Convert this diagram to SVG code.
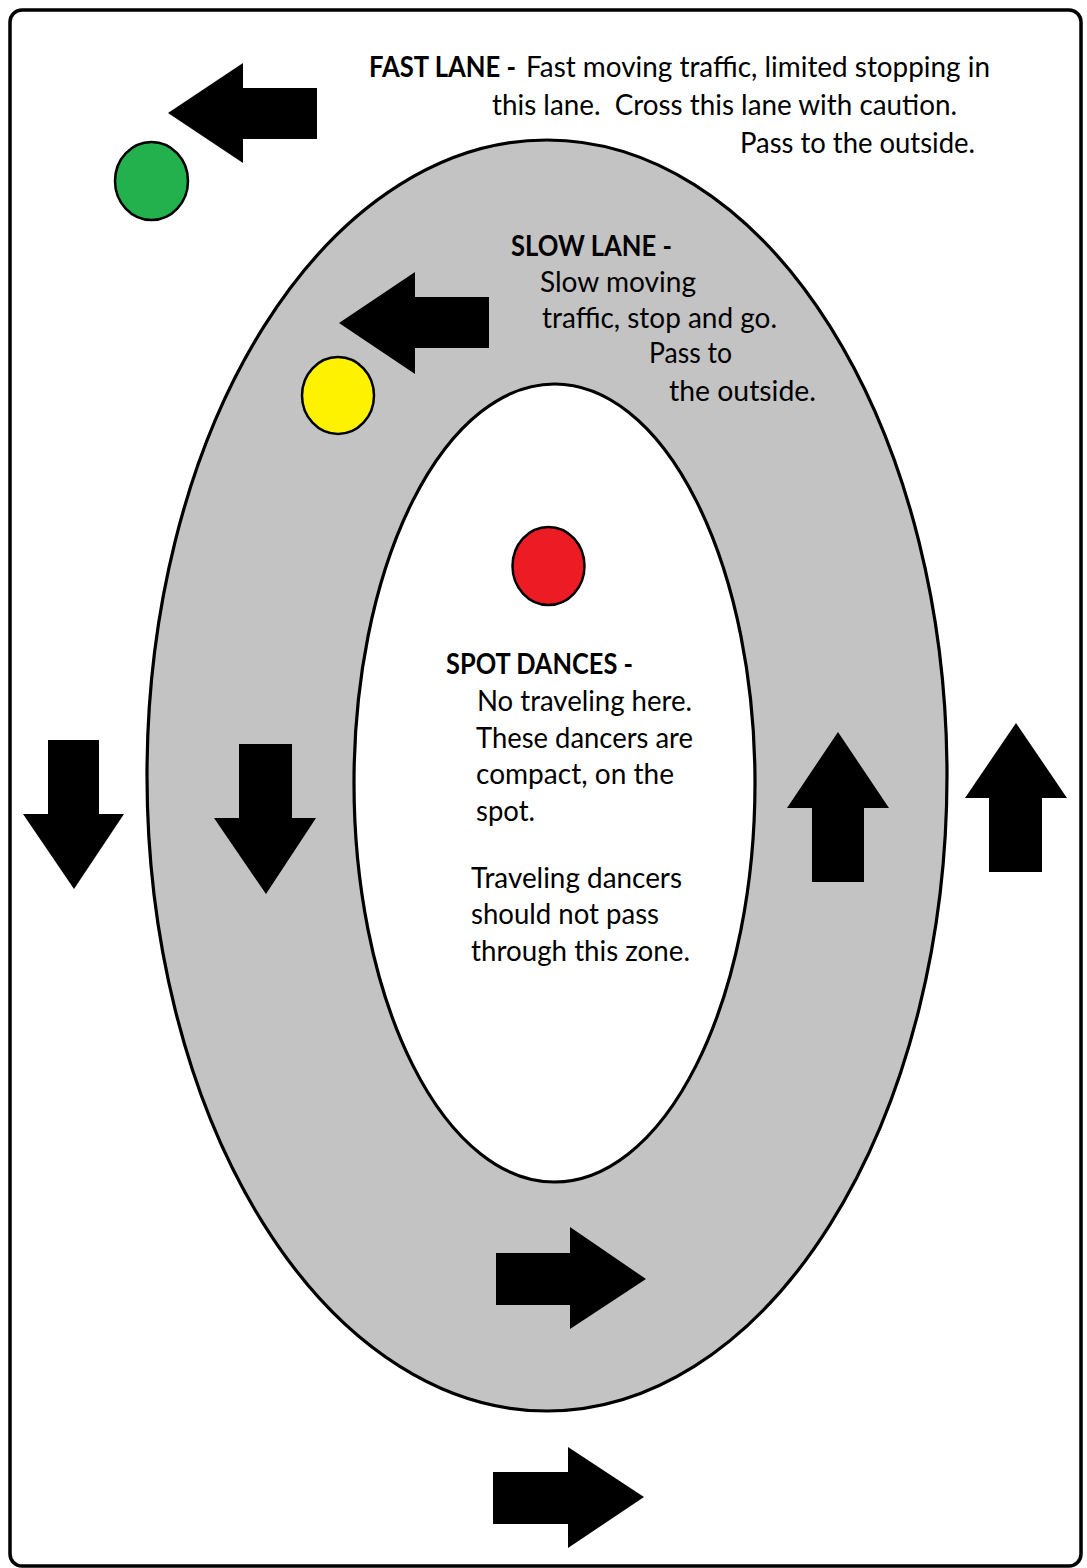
<svg xmlns="http://www.w3.org/2000/svg" width="1087" height="1568" viewBox="0 0 1087 1568">
<style>
.t{font-family:Lato,"Open Sans","Liberation Sans",sans-serif;font-size:29px;fill:#000}
.b{font-weight:bold}
.arr{fill:#000}
.dot{stroke:#000;stroke-width:2.5}
</style>
<rect x="0" y="0" width="1087" height="1568" fill="#fff"/>
<rect id="frame" x="10" y="10" width="1071" height="1556" rx="12" ry="12" fill="#fff" stroke="#000" stroke-width="3.5"/>
<g id="fast-lane">
<ellipse cx="547" cy="775.5" rx="400" ry="635.5" fill="#c3c3c3" stroke="#000" stroke-width="3.2"/>
</g>
<g id="spot-zone">
<ellipse cx="554.5" cy="783" rx="200.5" ry="399" fill="#fff" stroke="#000" stroke-width="3.2"/>
</g>
<g id="markers">
<ellipse id="green" class="dot" cx="151.5" cy="181" rx="36.5" ry="39" fill="#22b14c"/>
<ellipse id="yellow" class="dot" cx="338" cy="395.5" rx="36" ry="38.5" fill="#fff200"/>
<ellipse id="red" class="dot" cx="548.5" cy="566" rx="36" ry="39" fill="#ed1c24"/>
</g>
<g id="connectors">
<polygon class="arr" points="168,113 243,63 243,88 317,88 317,139 243,139 243,163"/>
<polygon class="arr" points="339,323 415,272 415,297 489,297 489,348 415,348 415,374"/>
<polygon class="arr" points="48,740 99,740 99,814 124,814 74,889 23,814 48,814"/>
<polygon class="arr" points="239,744 292,744 292,818 316,818 266,894 214,818 239,818"/>
<polygon class="arr" points="838,732 889,808 864,808 864,882 812,882 812,808 787,808"/>
<polygon class="arr" points="1016,723 1067,798 1042,798 1042,872 989,872 989,798 965,798"/>
<polygon class="arr" points="646,1279 570,1227 570,1253 496,1253 496,1305 570,1305 570,1329"/>
<polygon class="arr" points="644,1497 568,1447 568,1472 493,1472 493,1524 568,1524 568,1548"/>
</g>
<g id="fast-lane-label">
<text class="t b" x="369" y="77" textLength="147" lengthAdjust="spacingAndGlyphs">FAST LANE -</text>
<text class="t" x="526" y="77" textLength="464" lengthAdjust="spacingAndGlyphs">Fast moving traffic, limited stopping in</text>
<text class="t" x="492" y="115" textLength="465" lengthAdjust="spacingAndGlyphs" xml:space="preserve">this lane.  Cross this lane with caution.</text>
<text class="t" x="740" y="153" textLength="235" lengthAdjust="spacingAndGlyphs">Pass to the outside.</text>
</g>
<g id="slow-lane-label">
<text class="t b" x="511" y="256" textLength="161" lengthAdjust="spacingAndGlyphs">SLOW LANE -</text>
<text class="t" x="540" y="292" textLength="156" lengthAdjust="spacingAndGlyphs">Slow moving</text>
<text class="t" x="542" y="328" textLength="235" lengthAdjust="spacingAndGlyphs">traffic, stop and go.</text>
<text class="t" x="649" y="363" textLength="83" lengthAdjust="spacingAndGlyphs">Pass to</text>
<text class="t" x="669" y="401" textLength="147" lengthAdjust="spacingAndGlyphs">the outside.</text>
</g>
<g id="spot-dances-label">
<text class="t b" x="446" y="674" textLength="187" lengthAdjust="spacingAndGlyphs">SPOT DANCES -</text>
<text class="t" x="477" y="711" textLength="215" lengthAdjust="spacingAndGlyphs">No traveling here.</text>
<text class="t" x="476" y="748" textLength="217" lengthAdjust="spacingAndGlyphs">These dancers are</text>
<text class="t" x="476" y="784" textLength="198" lengthAdjust="spacingAndGlyphs">compact, on the</text>
<text class="t" x="476" y="821" textLength="59" lengthAdjust="spacingAndGlyphs">spot.</text>
<text class="t" x="471" y="888" textLength="211" lengthAdjust="spacingAndGlyphs">Traveling dancers</text>
<text class="t" x="471" y="924" textLength="188" lengthAdjust="spacingAndGlyphs">should not pass</text>
<text class="t" x="471" y="961" textLength="219" lengthAdjust="spacingAndGlyphs">through this zone.</text>
</g>
</svg>
